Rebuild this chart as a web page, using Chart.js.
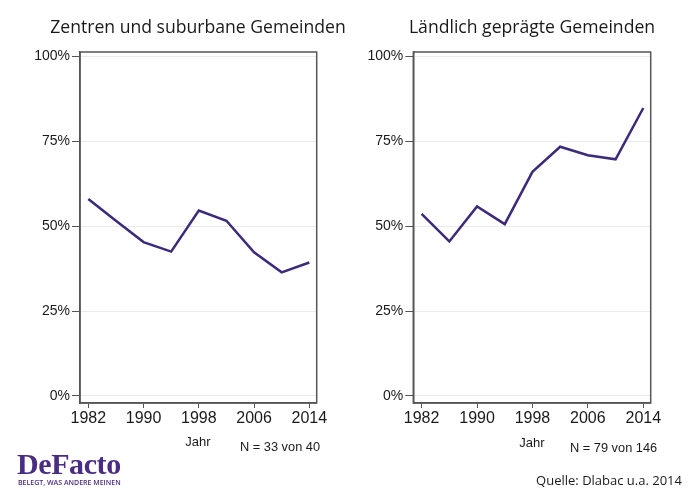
<!DOCTYPE html>
<html><head><meta charset="utf-8">
<script src="https://cdn.jsdelivr.net/npm/chart.js@4"></script>
<style>
body{margin:0;background:#fff;width:700px;height:500px;position:relative;overflow:hidden;font-family:"Liberation Sans",Arial,sans-serif}
.c{position:absolute;top:0;width:350px;height:500px}
.t{position:absolute;white-space:nowrap;color:#1a1a1a;line-height:1}
.cx{transform:translate(-50%,-50%)}
.lx{transform:translate(0,-50%)}
.rx{transform:translate(-100%,-50%)}
</style></head><body>
<div class="c" style="left:0"><canvas id="c1" width="350" height="500"></canvas></div>
<div class="c" style="left:350px"><canvas id="c2" width="350" height="500"></canvas></div>

<div class="t cx" id="title1" style="left:198px;top:27px;font-family:'Open Sans';font-size:17.6px">Zentren und suburbane Gemeinden</div>
<div class="t cx" id="title2" style="left:532px;top:27px;font-family:'Open Sans';font-size:17.6px">Ländlich geprägte Gemeinden</div>
<div class="t cx" style="left:198px;top:441px;font-size:13px">Jahr</div>
<div class="t cx" style="left:532px;top:442px;font-size:13px">Jahr</div>
<div class="t lx" style="left:240px;top:447px;font-size:12.8px">N = 33 von 40</div>
<div class="t lx" style="left:570px;top:448px;font-size:12.8px">N = 79 von 146</div>
<div class="t rx" style="left:682px;top:480px;font-family:'Open Sans';font-size:13px">Quelle: Dlabac u.a. 2014</div>
<div class="t lx" style="left:17px;top:464px;font-family:'Liberation Serif';font-weight:bold;font-size:30px;color:#4a2d82;letter-spacing:-0.4px">DeFacto</div>
<div class="t lx" style="left:18px;top:482px;font-family:'Open Sans';font-weight:600;font-size:7px;color:#4a2d82">BELEGT, WAS ANDERE MEINEN</div>

<script>
const years = [1982,1986,1990,1994,1998,2002,2006,2010,2014];
const zentren = [58.0,51.6,45.3,42.5,54.6,51.6,42.3,36.4,39.3];
const laendlich = [53.6,45.5,55.8,50.6,66.0,73.4,70.9,69.7,84.8];
const xTicks = [1982,1990,1998,2006,2014];
const yTicks = [0,25,50,75,100];

const boxPlugin = {
  id:'box',
  afterDraw(chart){
    const a = chart.chartArea, ctx = chart.ctx;
    ctx.save();
    ctx.strokeStyle = '#555';
    ctx.lineWidth = 1.5;
    ctx.strokeRect(a.left, a.top, a.right-a.left, a.bottom-a.top);
    ctx.restore();
  }
};

function make(id, values, yW, padRight){
  new Chart(document.getElementById(id), {
    type:'line',
    data:{datasets:[{data: years.map((y,i)=>({x:y,y:values[i]})), borderColor:'#3d2a7a', borderWidth:2.5, pointRadius:0, tension:0, fill:false}]},
    options:{
      responsive:false, animation:false,
      layout:{padding:{top:52,left:0,right:padRight,bottom:0}},
      plugins:{legend:{display:false},tooltip:{enabled:false}},
      scales:{
        x:{type:'linear',min:1980.8,max:2015.07,
          afterBuildTicks:s=>{s.ticks = xTicks.map(v=>({value:v}));},
          afterFit:s=>{s.height = 97;},
          grid:{drawOnChartArea:false,tickLength:5,color:'#555',lineWidth:1},
          border:{color:'#555',width:1.5},
          ticks:{font:{size:16,family:'Liberation Sans'},color:'#1a1a1a',padding:1,maxRotation:0,autoSkip:false,callback:v=>String(v)}
        },
        y:{min:-2.1,max:101.3,
          afterBuildTicks:s=>{s.ticks = yTicks.map(v=>({value:v}));},
          afterFit:s=>{s.width = yW;},
          grid:{color:'#ebebeb',tickColor:'#555',tickLength:8,lineWidth:1},
          border:{color:'#555',width:1.5},
          ticks:{font:{size:14,family:'Liberation Sans'},color:'#1a1a1a',padding:2,callback:v=>v+'%'}
        }
      }
    },
    plugins:[boxPlugin]
  });
}
make('c1', zentren, 80, 33.3);
make('c2', laendlich, 63.3, 49.3);
</script>
</body></html>
